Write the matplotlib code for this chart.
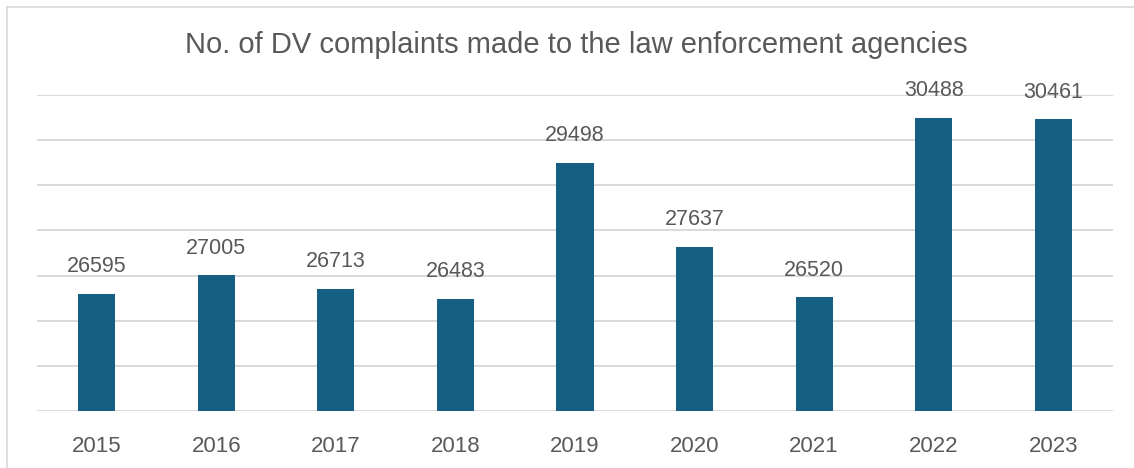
import matplotlib.pyplot as plt
from matplotlib.lines import Line2D

years = ['2015', '2016', '2017', '2018', '2019', '2020', '2021', '2022', '2023']
complaints = [26595, 27005, 26713, 26483, 29498, 27637, 26520, 30488, 30461]

plt.rcParams['font.family'] = ['Liberation Sans', 'DejaVu Sans']
grey = '#595959'

fig = plt.figure(figsize=(11.34, 4.68), dpi=100)
ax = fig.add_axes([37 / 1134, 57 / 468, 1076 / 1134, 316 / 468])

x = range(len(years))
bars = ax.bar(x, complaints, width=0.31, color='#156082', zorder=3)
for b, v in zip(bars, complaints):
    ax.annotate(str(v), (b.get_x() + b.get_width() / 2, v), xytext=(0, 12),
                textcoords='offset points', ha='center', va='bottom',
                fontsize=15.5, color=grey)

ax.set_xlim(-0.5, len(years) - 0.5)
ax.set_ylim(24000, 31000)
ax.set_yticks(range(24000, 31001, 1000))
ax.set_yticklabels([])
ax.tick_params(axis='y', length=0)
ax.set_xticks(list(x))
ax.set_xticklabels(years, fontsize=16, color=grey)
ax.tick_params(axis='x', length=0, pad=18)
ax.grid(axis='y', color='#d9d9d9', linewidth=1.4, zorder=0)
for s in ax.spines.values():
    s.set_visible(False)

fig.text(576 / 1134, 1 - 45 / 468, 'No. of DV complaints made to the law enforcement agencies',
         ha='center', va='center', fontsize=21, color=grey)

# light frame on the top and left edges
fig.add_artist(Line2D([7 / 1134, 1], [1 - 7 / 468, 1 - 7 / 468], color='#d9d9d9', lw=1.2))
fig.add_artist(Line2D([7 / 1134, 7 / 1134], [0, 1 - 7 / 468], color='#d9d9d9', lw=1.2))

fig.savefig('out.png', dpi=100)
